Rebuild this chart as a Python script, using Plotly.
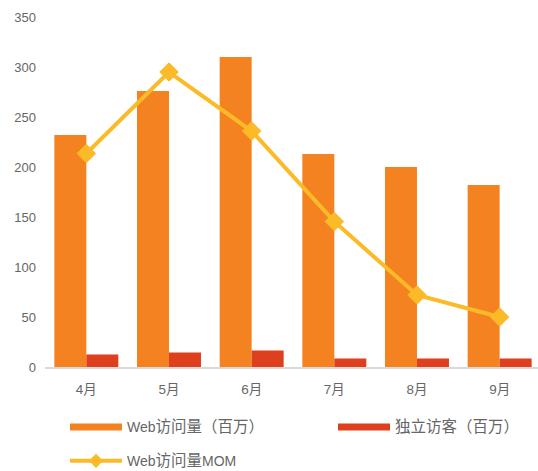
import plotly.graph_objects as go

months = ["4月", "5月", "6月", "7月", "8月", "9月"]
web_visits = [232, 276, 310, 213, 200, 182]
unique_visitors = [12.5, 14.5, 16.5, 8.5, 8.5, 8.5]
web_mom = [213.5, 295, 236, 145.5, 72, 50]
y_ticks = [0, 50, 100, 150, 200, 250, 300, 350]
names = ["Web访问量（百万）", "独立访客（百万）", "Web访问量MOM"]

ORANGE = "#F58220"
RED = "#DE3F1C"
YELLOW = "#FBBA27"
GRAY = "#666666"
FONT = "Liberation Sans, Arial, Noto Sans CJK SC, sans-serif"


def legend_label(text):
    # render CJK glyphs slightly larger, like the reference
    out, buf, cjk = [], "", None
    for ch in text:
        is_cjk = ord(ch) > 0x2E80
        if cjk is None or is_cjk == cjk:
            buf += ch
        else:
            out.append((buf, cjk))
            buf = ch
        cjk = is_cjk
    out.append((buf, cjk))
    return "".join(f"<span style='font-size:15.5px'>{b}</span>" if c else b
                   for b, c in out)


fig = go.Figure()
fig.add_trace(go.Bar(x=months, y=web_visits, marker=dict(color=ORANGE, line=dict(width=0)),
                     name=names[0], showlegend=False, legendgroup="a"))
fig.add_trace(go.Bar(x=months, y=unique_visitors, marker=dict(color=RED, line=dict(width=0)),
                     name=names[1], showlegend=False, legendgroup="b"))
fig.add_trace(go.Scatter(x=months, y=web_mom, mode="lines+markers",
                         line=dict(color=YELLOW, width=4),
                         marker=dict(symbol="diamond", size=15, color=YELLOW),
                         name=names[2], showlegend=False, legendgroup="c"))

# legend entries
fig.add_trace(go.Scatter(x=[None], y=[None], mode="lines",
                         line=dict(color=ORANGE, width=7),
                         name=legend_label(names[0]), legend="legend", legendgroup="a"))
fig.add_trace(go.Scatter(x=[None], y=[None], mode="lines",
                         line=dict(color=RED, width=7),
                         name=legend_label(names[1]), legend="legend2", legendgroup="b"))
fig.add_trace(go.Scatter(x=[None], y=[None], mode="lines+markers",
                         line=dict(color=YELLOW, width=4),
                         marker=dict(symbol="diamond", size=11, color=YELLOW),
                         name=legend_label(names[2]), legend="legend3", legendgroup="c"))

plot_h = 471 - 16.5 - 103.5
plot_w = 538 - 45


def leg(px_x, px_y):
    return dict(orientation="h", x=(px_x - 45) / plot_w, xanchor="left",
                y=(367.5 - px_y) / plot_h, yanchor="middle",
                font=dict(size=14, color=GRAY), itemwidth=52,
                bgcolor="rgba(0,0,0,0)")


fig.update_layout(
    width=538, height=471,
    margin=dict(l=45, r=0, t=16.5, b=103.5, autoexpand=False),
    paper_bgcolor="white", plot_bgcolor="white",
    font=dict(family=FONT, size=13, color=GRAY),
    barmode="group", bargap=0.226, bargroupgap=0,
    xaxis=dict(range=[-0.5, 5.464], showgrid=False, zeroline=False,
               showline=True, linecolor="#D9D9D9", linewidth=2,
               ticks="", tickfont=dict(size=13.5, color=GRAY),
               ticklabelstandoff=9, fixedrange=True),
    yaxis=dict(range=[0, 350], tickvals=y_ticks, showgrid=False,
               zeroline=False, showline=False, ticks="",
               tickfont=dict(size=13, color=GRAY), ticklabelstandoff=8),
    legend=leg(65, 428),
    legend2=leg(333, 428),
    legend3=leg(65, 462),
)

fig.write_html("out.html", config={"displayModeBar": False},
               post_script="document.body.style.margin='0';")
